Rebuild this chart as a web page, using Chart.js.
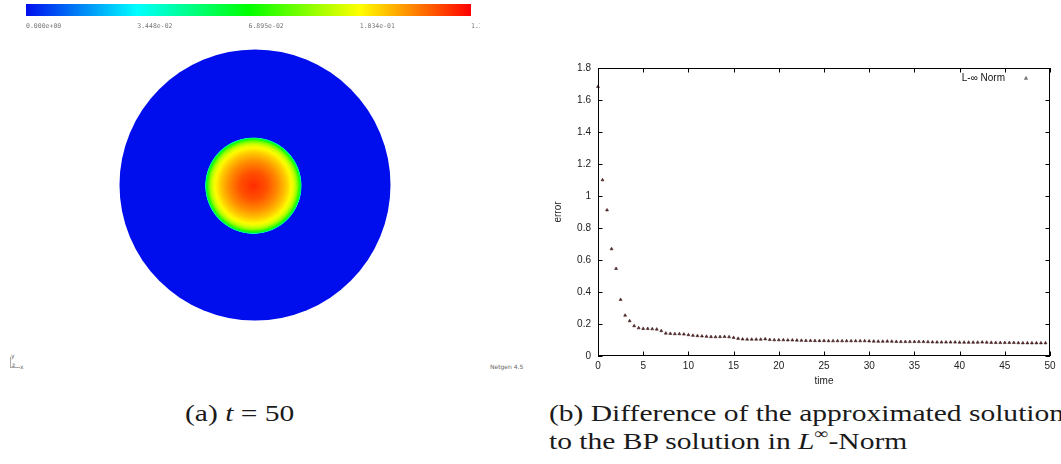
<!DOCTYPE html>
<html>
<head>
<meta charset="utf-8">
<script src="https://cdn.jsdelivr.net/npm/chart.js"></script>
<style>
  body { margin: 0; background: #fff; }
  #page { position: relative; width: 1061px; height: 464px; overflow: hidden; background: #fff; }
  canvas, .txt { position: absolute; }
  .cap { position: absolute; font-family: "Liberation Serif", serif; font-size: 24px; line-height: 28px; color: #1a1a1a; white-space: nowrap; transform: scaleX(1.23); transform-origin: 0 0; }
  .cap sup { font-size: 16px; line-height: 0; vertical-align: 10px; }
  .tiny { position: absolute; font-family: "DejaVu Sans", sans-serif; font-size: 6px; color: #666; }
</style>
</head>
<body>
<div id="page">
  <canvas id="colorbar" width="480" height="34" style="left:0;top:0"></canvas>
  <canvas id="field" width="280" height="280" style="left:115px;top:45px"></canvas>
  <canvas id="errorChart" width="521" height="335" style="left:540px;top:55px"></canvas>

  <div style="position:absolute;left:10px;top:357px;width:9px;height:10px;border-left:1px solid #aaa;border-bottom:1px solid #aaa"></div>
  <div class="tiny" style="left:11px;top:352px">y</div>
  <div class="tiny" style="left:20px;top:363px">x</div>
  <div class="tiny" style="left:12px;top:361px">z</div>
  <div class="tiny" style="left:490px;top:363px">Netgen 4.5</div>

  <div class="cap" style="left:185px;top:399px">(a) <i>t</i> = 50</div>
  <div class="cap" style="left:549px;top:399px">(b) Difference of the approximated solution<br>to the BP solution in <i>L</i><sup>∞</sup>-Norm</div>
</div>
<script>
// colour scale of the Netgen picture
const cmapStops = [0, 0.25, 0.5, 0.75, 1]
const cmapColors = [[0, 14, 238], [0, 255, 255], [0, 255, 0], [255, 255, 0], [255, 0, 0]]
const colorbarTicks = [0, 0.03448, 0.06895, 0.1034, 0.1379]
const colorbarLabels = ['0.000e+00', '3.448e-02', '6.895e-02', '1.034e-01', '1.379e-01']

// radial profile of the solution at t = 50 (disc radius = 1)
const domainRadius = 1
const blobRadii = [0, 0.10, 0.18, 0.24, 0.28, 0.305, 0.325, 0.338, 0.347, 0.353, 0.358]
const blobValues = [0.132, 0.127, 0.119, 0.111, 0.104, 0.097, 0.086, 0.074, 0.062, 0.046, 0]

// L-inf error over time
const timeSteps = [
  0, 0.5, 1, 1.5, 2, 2.5, 3, 3.5, 4, 4.5, 5, 5.5, 6, 6.5, 7, 7.5, 8, 8.5, 9, 9.5,
  10, 10.5, 11, 11.5, 12, 12.5, 13, 13.5, 14, 14.5, 15, 15.5, 16, 16.5, 17, 17.5, 18, 18.5, 19, 19.5,
  20, 20.5, 21, 21.5, 22, 22.5, 23, 23.5, 24, 24.5, 25, 25.5, 26, 26.5, 27, 27.5, 28, 28.5, 29, 29.5,
  30, 30.5, 31, 31.5, 32, 32.5, 33, 33.5, 34, 34.5, 35, 35.5, 36, 36.5, 37, 37.5, 38, 38.5, 39, 39.5,
  40, 40.5, 41, 41.5, 42, 42.5, 43, 43.5, 44, 44.5, 45, 45.5, 46, 46.5, 47, 47.5, 48, 48.5, 49, 49.5
]
const errorValues = [
  1.683, 1.100, 0.912, 0.669, 0.546, 0.352, 0.254, 0.219, 0.188, 0.175, 0.171, 0.171, 0.169, 0.167, 0.157, 0.142, 0.140, 0.138, 0.138, 0.136,
  0.132, 0.128, 0.126, 0.124, 0.122, 0.120, 0.119, 0.120, 0.121, 0.119, 0.115, 0.109, 0.105, 0.104, 0.104, 0.104, 0.104, 0.106, 0.102, 0.100,
  0.100, 0.100, 0.099, 0.099, 0.098, 0.097, 0.096, 0.096, 0.095, 0.095, 0.095, 0.094, 0.094, 0.094, 0.094, 0.094, 0.094, 0.094, 0.094, 0.094,
  0.093, 0.092, 0.091, 0.091, 0.092, 0.091, 0.090, 0.089, 0.089, 0.089, 0.089, 0.089, 0.089, 0.088, 0.087, 0.086, 0.086, 0.086, 0.086, 0.086,
  0.085, 0.085, 0.085, 0.085, 0.085, 0.086, 0.085, 0.084, 0.083, 0.083, 0.083, 0.083, 0.083, 0.082, 0.081, 0.081, 0.081, 0.081, 0.081, 0.081
]
const yTickStep = 0.2
const xTickStep = 5

function cmap(f) {
  f = Math.max(0, Math.min(1, f))
  for (let i = 1; i < cmapStops.length; i++) {
    if (f <= cmapStops[i]) {
      const k = (f - cmapStops[i - 1]) / (cmapStops[i] - cmapStops[i - 1])
      const a = cmapColors[i - 1], b = cmapColors[i]
      return `rgb(${Math.round(a[0] + (b[0] - a[0]) * k)},${Math.round(a[1] + (b[1] - a[1]) * k)},${Math.round(a[2] + (b[2] - a[2]) * k)})`
    }
  }
}
const vmax = colorbarTicks[colorbarTicks.length - 1]

// ---- colour bar ----
new Chart(document.getElementById('colorbar'), {
  type: 'bar',
  data: {
    labels: ['scale'],
    datasets: [{
      data: [vmax],
      barPercentage: 1,
      categoryPercentage: 1,
      backgroundColor: (c) => {
        const area = c.chart.chartArea
        if (!area) return cmap(0)
        const g = c.chart.ctx.createLinearGradient(area.left, 0, area.right, 0)
        cmapStops.forEach(s => g.addColorStop(s, cmap(s)))
        return g
      }
    }]
  },
  options: {
    indexAxis: 'y',
    responsive: false,
    animation: false,
    devicePixelRatio: 1,
    layout: {padding: {left: 26, right: 9, top: 4, bottom: 0}},
    plugins: {legend: {display: false}, tooltip: {enabled: false}},
    scales: {
      x: {
        type: 'linear', min: 0, max: vmax,
        afterBuildTicks: s => { s.ticks = colorbarTicks.map(v => ({value: v})) },
        ticks: {
          align: 'start', padding: 6, color: '#777', maxRotation: 0, autoSkip: false,
          font: {family: 'DejaVu Sans Mono', size: 6.5},
          callback: (v) => colorbarLabels[colorbarTicks.indexOf(v)]
        },
        grid: {display: false, drawTicks: false},
        border: {display: false},
        afterFit: s => { s.height = 18; s.paddingRight = 0; s.paddingLeft = 0 }
      },
      y: {display: false}
    }
  }
})

// ---- field on the disc ----
const fieldPlugin = {
  id: 'field',
  beforeDatasetsDraw(chart) {
    const {ctx, scales: {x, y}} = chart
    const cx = x.getPixelForValue(0), cy = y.getPixelForValue(0)
    const R = x.getPixelForValue(domainRadius) - cx
    ctx.save()
    ctx.fillStyle = cmap(0)
    ctx.beginPath(); ctx.arc(cx, cy, R, 0, Math.PI * 2); ctx.fill()
    const bx = x.getPixelForValue(-0.012), by = y.getPixelForValue(-0.005)
    const rOut = x.getPixelForValue(blobRadii[blobRadii.length - 1]) - cx
    const g = ctx.createRadialGradient(bx, by, 0, bx, by, rOut)
    blobRadii.forEach((r, i) => g.addColorStop(r / blobRadii[blobRadii.length - 1], cmap(blobValues[i] / vmax)))
    ctx.fillStyle = g
    ctx.beginPath(); ctx.arc(bx, by, rOut, 0, Math.PI * 2); ctx.fill()
    ctx.restore()
  }
}
new Chart(document.getElementById('field'), {
  type: 'scatter',
  data: {datasets: [{data: [], pointRadius: 0}]},
  options: {
    responsive: false,
    animation: false,
    devicePixelRatio: 1,
    layout: {padding: 0},
    plugins: {legend: {display: false}, tooltip: {enabled: false}},
    scales: {
      x: {type: 'linear', display: false, min: -1.0332, max: 1.0332},
      y: {type: 'linear', display: false, min: -1.0332, max: 1.0332}
    }
  },
  plugins: [fieldPlugin]
})

// ---- gnuplot-like error plot ----
const tickFont = {family: 'Liberation Sans', size: 10}
const gnuplotFrame = {
  id: 'gnuplotFrame',
  afterDraw(chart) {
    const {ctx, chartArea: a, scales: {x, y}} = chart
    const len = 4.5
    ctx.save()
    ctx.strokeStyle = '#000'
    ctx.lineWidth = 1
    ctx.strokeRect(a.left + 0.5, a.top + 0.5, a.right - a.left - 1, a.bottom - a.top - 1)
    ctx.beginPath()
    x.ticks.forEach(t => {
      const px = Math.round(x.getPixelForValue(t.value)) + 0.5
      ctx.moveTo(px, a.bottom); ctx.lineTo(px, a.bottom - len)
      ctx.moveTo(px, a.top); ctx.lineTo(px, a.top + len)
    })
    y.ticks.forEach(t => {
      const py = Math.round(y.getPixelForValue(t.value)) + 0.5
      ctx.moveTo(a.left, py); ctx.lineTo(a.left + len, py)
      ctx.moveTo(a.right, py); ctx.lineTo(a.right - len, py)
    })
    ctx.stroke()

    // key, gnuplot style: text then sample
    const ds = chart.data.datasets[0]
    const ky = a.top + 10
    ctx.fillStyle = '#111'
    ctx.font = '10px "Liberation Sans"'
    ctx.textAlign = 'right'
    ctx.textBaseline = 'middle'
    ctx.fillText(ds.label, a.right - 45, ky)
    const mx = a.right - 24, r = 2.2
    ctx.fillStyle = '#777'
    ctx.beginPath()
    ctx.moveTo(mx, ky - r); ctx.lineTo(mx + r, ky + r * 0.8); ctx.lineTo(mx - r, ky + r * 0.8)
    ctx.closePath(); ctx.fill()
    ctx.restore()
  }
}

new Chart(document.getElementById('errorChart'), {
  type: 'scatter',
  data: {
    datasets: [{
      label: 'L-\u221e Norm',
      data: timeSteps.map((t, i) => ({x: t, y: errorValues[i]})),
      pointStyle: 'triangle',
      pointRadius: 1.7,
      backgroundColor: '#5a2424',
      borderColor: '#3a1c1c',
      borderWidth: 0.6,
      clip: false
    }]
  },
  options: {
    responsive: false,
    animation: false,
    devicePixelRatio: 1,
    layout: {padding: {top: 8, right: 11, left: 0, bottom: 0}},
    plugins: {legend: {display: false}, tooltip: {enabled: false}},
    scales: {
      x: {
        type: 'linear', min: 0, max: 50,
        ticks: {stepSize: xTickStep, font: tickFont, color: '#222', padding: 4, maxRotation: 0},
        grid: {display: false, drawTicks: false},
        border: {display: false},
        title: {display: true, text: 'time', font: tickFont, color: '#222', padding: {top: 0, bottom: 3}},
        afterFit: s => { s.height = 34 }
      },
      y: {
        type: 'linear', min: 0, max: 1.8,
        ticks: {stepSize: yTickStep, font: tickFont, color: '#222', padding: 7, callback: v => String(+v.toFixed(1))},
        grid: {display: false, drawTicks: false},
        border: {display: false},
        title: {display: true, text: 'error', font: tickFont, color: '#222', padding: {top: 12, bottom: 0}},
        afterFit: s => { s.width = 58 }
      }
    }
  },
  plugins: [gnuplotFrame]
})
</script>
</body>
</html>
